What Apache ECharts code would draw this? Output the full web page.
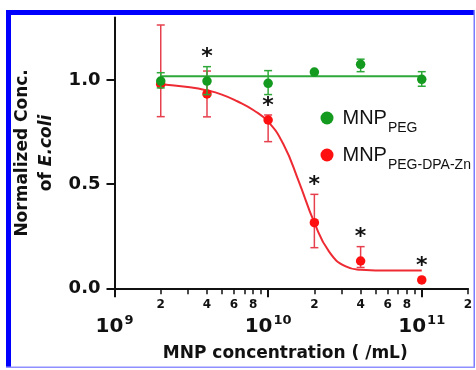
<!DOCTYPE html>
<html><head><meta charset="utf-8">
<script src="https://cdn.jsdelivr.net/npm/echarts@6/dist/echarts.min.js"></script>
<style>html,body{margin:0;padding:0;background:#fff}#c{width:476px;height:370px}</style>
</head><body><div id="c"></div>
<script>
// ---- data ----
const concentrations = [2e9, 4e9, 1e10, 2e10, 4e10, 1e11];
const pegMean = [0.995, 0.995, 0.984, 1.038, 1.075, 1.003];
const pegLow  = [0.962, 0.93, 0.93, 1.038, 1.04, 0.97];
const pegHigh = [1.035, 1.064, 1.045, 1.038, 1.10, 1.04];
const pegSig  = [0, 1, 0, 0, 0, 0];
const znMean = [0.98, 0.933, 0.808, 0.315, 0.131, 0.04];
const znLow  = [0.824, 0.823, 0.704, 0.195, 0.10, 0.04];
const znHigh = [1.264, 1.043, 0.832, 0.451, 0.20, 0.04];
const znSig  = [0, 0, 1, 1, 1, 1];
const pegFitX = [2e9, 1e11];
const pegFitY = [1.018, 1.018];
const znFitX = [2e9, 3e9, 4e9, 5e9, 6.3e9, 8e9, 1e10, 1.26e10, 1.58e10, 2e10, 2.5e10, 3.2e10, 4e10, 5e10, 6.3e10, 8e10, 1e11];
const znFitY = [0.98, 0.966, 0.95, 0.93, 0.898, 0.856, 0.800, 0.69, 0.515, 0.315, 0.175, 0.105, 0.089, 0.086, 0.085, 0.085, 0.085];
const seriesNames = ['PEG', 'PEG-DPA-Zn'];
const decadeTicks = [1e9, 1e10, 1e11];
const minorTicks = [2e9,3e9,4e9,5e9,6e9,7e9,8e9,9e9,2e10,3e10,4e10,5e10,6e10,7e10,8e10,9e10,2e11];
const minorLabels = [2e9,4e9,6e9,8e9,2e10,4e10,6e10,8e10,2e11];
const yTicks = [0, 0.5, 1.0];

const GREEN = '#139a1f', GREEN_LINE = '#2fa83a', RED = '#ff1010', RED_LINE = '#ee2a33', RED_ERR = '#e6404e';
const BOLD = '"DejaVu Sans", sans-serif';

function errData(mean, low, high, sig) {
  return concentrations.map((x, i) => [x, low[i], high[i], sig[i], mean[i]]);
}
function errRender(color) {
  return function (params, api) {
    const x = api.value(0), lo = api.value(1), hi = api.value(2), s = api.value(3), m = api.value(4);
    const pLo = api.coord([x, lo]), pHi = api.coord([x, hi]), pM = api.coord([x, m]);
    const hw = 4;
    const st = { stroke: color, lineWidth: 1.5 };
    const children = [];
    if (hi > lo) {
      children.push({ type: 'line', shape: { x1: pLo[0], y1: pLo[1], x2: pHi[0], y2: pHi[1] }, style: st });
      children.push({ type: 'line', shape: { x1: pLo[0] - hw, y1: pLo[1], x2: pLo[0] + hw, y2: pLo[1] }, style: st });
      children.push({ type: 'line', shape: { x1: pHi[0] - hw, y1: pHi[1], x2: pHi[0] + hw, y2: pHi[1] }, style: st });
    }
    if (s) {
      const top = Math.min(pHi[1], pM[1] - 5);
      children.push({ type: 'text', style: { text: '*', x: pM[0], y: top + 2, align: 'center', verticalAlign: 'bottom', font: 'bold 22px ' + BOLD, fill: '#111' } });
    }
    return { type: 'group', children: children };
  };
}

const chart = echarts.init(document.getElementById('c'), null, { renderer: 'canvas' });
const logAxisBase = { type: 'log', logBase: 10, min: 1e9, max: 2e11, position: 'bottom', splitLine: { show: false } };
chart.setOption({
  animation: false,
  backgroundColor: '#fff',
  grid: { left: 114.5, right: 8, top: 17.5, bottom: 81.7, containLabel: false },
  xAxis: [
    Object.assign({}, logAxisBase, {
      axisLine: { show: true, lineStyle: { color: '#111', width: 2 } },
      axisTick: { show: true, customValues: decadeTicks, length: 9, lineStyle: { color: '#111', width: 2 } },
      axisLabel: {
        customValues: decadeTicks, margin: 26,
        formatter: v => '{b|10}{s|' + Math.round(Math.log10(v)) + '}',
        rich: {
          b: { fontFamily: BOLD, fontWeight: 'bold', fontSize: 20, color: '#111' },
          s: { fontFamily: BOLD, fontWeight: 'bold', fontSize: 13, color: '#111', padding: [0, 0, 12, 1] }
        }
      },
      name: 'MNP concentration ( /mL)', nameLocation: 'middle', nameGap: 57,
      nameTextStyle: { fontFamily: BOLD, fontWeight: 'bold', fontSize: 17, color: '#111', padding: [0, 12, 0, 0] }
    }),
    Object.assign({}, logAxisBase, {
      axisLine: { show: false },
      axisTick: { show: true, customValues: minorTicks, length: 6, lineStyle: { color: '#111', width: 1.5 } },
      axisLabel: {
        customValues: minorLabels, margin: 11,
        formatter: v => String(Math.round(v / Math.pow(10, Math.floor(Math.log10(v) + 1e-9)))),
        fontFamily: BOLD, fontWeight: 'bold', fontSize: 12, color: '#111'
      }
    })
  ],
  yAxis: {
    type: 'value', min: 0, max: 1.3,
    splitLine: { show: false },
    axisLine: { show: true, lineStyle: { color: '#111', width: 2 } },
    axisTick: { show: true, customValues: yTicks, length: 8, lineStyle: { color: '#111', width: 2 } },
    axisLabel: { customValues: yTicks, margin: 14, formatter: v => v.toFixed(1), fontFamily: BOLD, fontWeight: 'bold', fontSize: 18, color: '#111' },
    name: '{n|Normalized Conc.}\n{n|of }{i|E.coli}', nameLocation: 'middle', nameRotate: 90, nameGap: 56,
    nameTextStyle: {
      align: 'center',
      rich: {
        n: { fontFamily: BOLD, fontWeight: 'bold', fontSize: 17, lineHeight: 24, color: '#111' },
        i: { fontFamily: BOLD, fontWeight: 'bold', fontStyle: 'italic', fontSize: 17, lineHeight: 24, color: '#111' }
      }
    }
  },
  legend: {
    data: seriesNames, orient: 'vertical', left: 315.5, top: 103, itemGap: 10,
    icon: 'circle', itemWidth: 13, itemHeight: 13,
    formatter: name => '{m|MNP}{s|' + name + '}',
    textStyle: {
      rich: {
        m: { fontFamily: '"Liberation Sans", Arial, sans-serif', fontSize: 20, color: '#111', padding: [0, 0, 0, 4] },
        s: { fontFamily: '"Liberation Sans", Arial, sans-serif', fontSize: 14, color: '#111', padding: [20, 0, 0, 1] }
      }
    }
  },
  graphic: [
    { type: 'rect', shape: { x: 6, y: 10, width: 469, height: 5 }, style: { fill: '#0000ff' }, z: 100 },
    { type: 'rect', shape: { x: 6, y: 10, width: 5, height: 358 }, style: { fill: '#0000ff' }, z: 100 },
    { type: 'rect', shape: { x: 473.5, y: 10, width: 1.5, height: 358 }, style: { fill: '#7b7bff' }, z: 100 },
    { type: 'rect', shape: { x: 6, y: 366.5, width: 469, height: 1.5 }, style: { fill: '#8f8fff' }, z: 100 }
  ],
  series: [
    { name: 'znfit', type: 'line', xAxisIndex: 0, data: znFitX.map((x, i) => [x, znFitY[i]]), smooth: 0.5, symbol: 'none', lineStyle: { color: RED_LINE, width: 2 }, z: 2 },
    { name: 'znerr', type: 'custom', xAxisIndex: 0, data: errData(znMean, znLow, znHigh, znSig), renderItem: errRender(RED_ERR), z: 3 },
    { name: 'PEG-DPA-Zn', type: 'scatter', xAxisIndex: 0, data: concentrations.map((x, i) => [x, znMean[i]]), symbolSize: 9.5, itemStyle: { color: RED, opacity: 1 }, z: 4 },
    { name: 'pegfit', type: 'line', xAxisIndex: 0, data: pegFitX.map((x, i) => [x, pegFitY[i]]), symbol: 'none', lineStyle: { color: GREEN_LINE, width: 2 }, z: 5 },
    { name: 'pegerr', type: 'custom', xAxisIndex: 0, data: errData(pegMean, pegLow, pegHigh, pegSig), renderItem: errRender(GREEN_LINE), z: 6 },
    { name: 'PEG', type: 'scatter', xAxisIndex: 0, data: concentrations.map((x, i) => [x, pegMean[i]]), symbolSize: 9.5, itemStyle: { color: GREEN, opacity: 1 }, z: 7 }
  ]
});
</script></body></html>
